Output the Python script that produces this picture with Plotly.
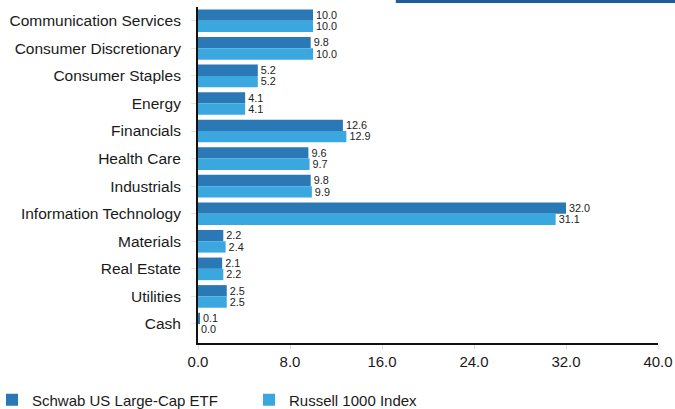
import plotly.graph_objects as go

sectors = [
    "Communication Services", "Consumer Discretionary", "Consumer Staples",
    "Energy", "Financials", "Health Care", "Industrials",
    "Information Technology", "Materials", "Real Estate", "Utilities", "Cash",
]
schwab_etf = [10.0, 9.8, 5.2, 4.1, 12.6, 9.6, 9.8, 32.0, 2.2, 2.1, 2.5, 0.1]
russell_1000 = [10.0, 10.0, 5.2, 4.1, 12.9, 9.7, 9.9, 31.1, 2.4, 2.2, 2.5, 0.0]
x_ticks = [0, 8, 16, 24, 32, 40]
x_tick_labels = ["0.0", "8.0", "16.0", "24.0", "32.0", "40.0"]

DARK = "#2a78b6"
LIGHT = "#3ba7df"
FONT = "Liberation Sans, Arial, sans-serif"

W, H = 675, 409
M_L, M_R, M_T, M_B = 198, 17, 7, 66
PW, PH = W - M_L - M_R, H - M_T - M_B

fig = go.Figure()
for name, vals, color in [
    ("Schwab US Large-Cap ETF", schwab_etf, DARK),
    ("Russell 1000 Index", russell_1000, LIGHT),
]:
    fig.add_trace(go.Bar(
        y=sectors, x=vals, orientation="h", name=name,
        marker=dict(color=color, line=dict(width=0)),
        text=[f"{v:.1f}" for v in vals],
        textposition="outside",
        textfont=dict(family=FONT, size=11.5, color="#222222"),
        cliponaxis=False,
    ))

fig.update_layout(
    width=W, height=H,
    margin=dict(l=M_L, r=M_R, t=M_T, b=M_B, autoexpand=False),
    paper_bgcolor="white", plot_bgcolor="white",
    barmode="group", bargap=0.18, bargroupgap=0,
    font=dict(family=FONT, color="#1a1a1a"),
    showlegend=True,
    legend=dict(
        orientation="h", x=-(M_L + 8) / PW, xanchor="left",
        y=-(400 - (H - M_B)) / PH, yanchor="middle",
        font=dict(size=15, family=FONT, color="#1a1a1a"),
        itemwidth=30, tracegroupgap=0, entrywidth=212,
    ),
)

fig.update_xaxes(
    range=[0, 40], tickvals=x_ticks, ticktext=x_tick_labels,
    showgrid=False, zeroline=False,
    showline=True, linecolor="#111111", linewidth=2,
    ticks="outside", ticklen=4, tickcolor="#dddddd",
    ticklabelstandoff=0,
    tickfont=dict(size=15, family=FONT, color="#1a1a1a"),
)
fig.update_yaxes(
    categoryorder="array", categoryarray=sectors,
    range=[11.69, -0.5],
    showgrid=False, zeroline=False,
    showline=True, linecolor="#111111", linewidth=2,
    ticks="outside", ticklen=5, tickcolor="#e4e4e4",
    ticklabelstandoff=7,
    tickfont=dict(size=15.5, family=FONT, color="#1a1a1a"),
)

# thin dark header band along the top edge
fig.add_shape(type="rect", xref="paper", yref="paper",
              x0=0.43, x1=1 + M_R / PW,
              y0=1 + (M_T - 3) / PH, y1=1 + M_T / PH,
              fillcolor="#1f5f98", line=dict(width=0), layer="above")

fig.write_html("out.html")
